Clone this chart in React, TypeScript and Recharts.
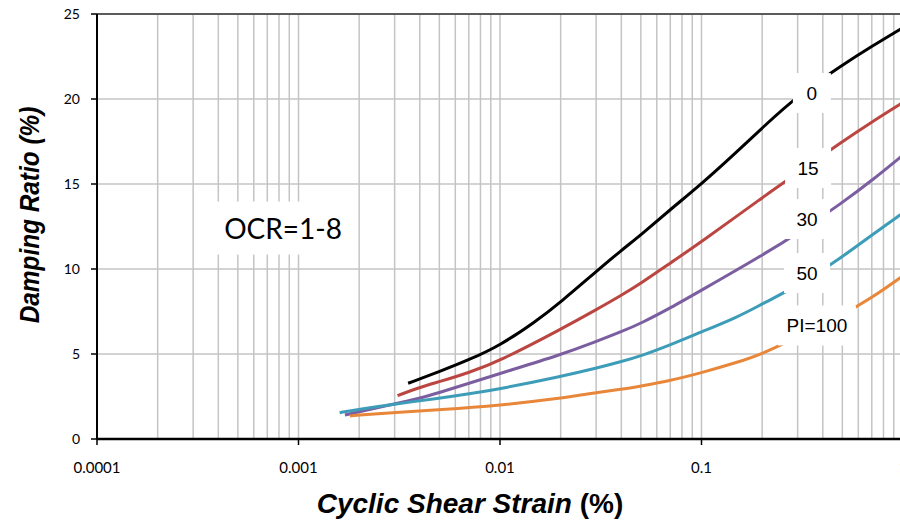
import React from 'react';
import {
  ComposedChart,
  Line,
  Scatter,
  XAxis,
  YAxis,
  CartesianGrid,
  ReferenceLine,
} from 'recharts';

// Damping curves for plasticity index PI = 0, 15, 30, 50, 100 (OCR = 1-8)
const strainPI0 = [0.0035, 0.005, 0.007, 0.01, 0.015, 0.02, 0.03, 0.04, 0.05, 0.07, 0.1, 0.15, 0.2, 0.3, 0.5, 0.7, 1];
const dampingPI0 = [3.28, 3.96, 4.65, 5.5, 6.9, 8.05, 9.85, 11.1, 12.0, 13.5, 15.0, 16.9, 18.3, 20.2, 22.0, 23.1, 24.2];

const strainPI15 = [0.0031, 0.004, 0.005, 0.007, 0.01, 0.02, 0.03, 0.04, 0.05, 0.07, 0.1, 0.2, 0.3, 0.5, 0.7, 1];
const dampingPI15 = [2.55, 3.04, 3.37, 3.9, 4.6, 6.45, 7.6, 8.45, 9.15, 10.35, 11.6, 14.2, 15.65, 17.5, 18.65, 19.8];

const strainPI30 = [0.0017, 0.002, 0.003, 0.004, 0.005, 0.007, 0.01, 0.02, 0.03, 0.04, 0.05, 0.07, 0.1, 0.2, 0.3, 0.5, 0.7, 1];
const dampingPI30 = [1.41, 1.61, 2.06, 2.4, 2.73, 3.27, 3.86, 4.95, 5.73, 6.31, 6.8, 7.7, 8.75, 10.8, 12.1, 13.9, 15.2, 16.7];

const strainPI50 = [0.0016, 0.002, 0.003, 0.005, 0.007, 0.01, 0.02, 0.03, 0.04, 0.05, 0.07, 0.1, 0.15, 0.2, 0.3, 0.5, 0.7, 1];
const dampingPI50 = [1.55, 1.75, 2.06, 2.39, 2.65, 2.95, 3.67, 4.16, 4.55, 4.88, 5.53, 6.3, 7.15, 7.95, 9.0, 10.7, 12.0, 13.3];

const strainPI100 = [0.0018, 0.002, 0.003, 0.005, 0.01, 0.02, 0.03, 0.04, 0.05, 0.07, 0.1, 0.15, 0.2, 0.3, 0.5, 0.7, 1];
const dampingPI100 = [1.35, 1.41, 1.55, 1.71, 1.98, 2.39, 2.73, 2.92, 3.12, 3.43, 3.9, 4.5, 5.0, 6.0, 7.3, 8.3, 9.6];

// axis ticks
const decadeTicks = [0.0001, 0.001, 0.01, 0.1, 1];
const dampingTicks = [0, 5, 10, 15, 20, 25];

// curve labels, anchored in data units (strain, damping)
const curveLabelText = ['0', '15', '30', '50', 'PI=100'];
const curveLabelStrain = [0.353, 0.338, 0.334, 0.334, 0.374];
const curveLabelDamping = [20.35, 15.94, 12.94, 9.76, 6.68];

const noteText = 'OCR=1-8';
const noteStrain = 0.000838;
const noteDamping = 12.41;

const toPoints = (s: number[], d: number[]) => s.map((v, i) => ({ s: v, d: d[i] }));

const series = [
  { name: 'PI=0', data: toPoints(strainPI0, dampingPI0), color: '#000000' },
  { name: 'PI=15', data: toPoints(strainPI15, dampingPI15), color: '#BB4641' },
  { name: 'PI=30', data: toPoints(strainPI30, dampingPI30), color: '#7B5EA0' },
  { name: 'PI=50', data: toPoints(strainPI50, dampingPI50), color: '#3D9DB8' },
  { name: 'PI=100', data: toPoints(strainPI100, dampingPI100), color: '#E8873A' },
];

// minor grid: 1..9 x each decade
const gridTicks = decadeTicks.slice(0, -1).flatMap((dec) =>
  [1, 2, 3, 4, 5, 6, 7, 8, 9].map((m) => m * dec)
).concat([1]);

const labelPoints = [
  ...curveLabelText.map((t, i) => ({
    s: curveLabelStrain[i],
    d: curveLabelDamping[i],
    text: t,
    big: false,
  })),
  { s: noteStrain, d: noteDamping, text: noteText, big: true },
];

const StrainTick = (props: any) => {
  const { x, y, payload } = props;
  if (!decadeTicks.includes(payload.value)) return null;
  return (
    <g>
      <line x1={x} x2={x} y1={y} y2={y + 6} stroke="#000" strokeWidth={1.5} />
      <text
        x={x}
        y={y + 34}
        textAnchor="middle"
        fontFamily="Lato, sans-serif"
        fontSize={15}
        fill="#000"
      >
        {String(payload.value)}
      </text>
    </g>
  );
};

// white box with text that hides the lines behind it
const LabelBox = (props: any) => {
  const { cx, cy, payload } = props;
  if (cx == null || cy == null) return null;
  const big = payload.big;
  const w = big ? 30 + 16 * payload.text.length : 30 + 8 * payload.text.length;
  const h = big ? 53 : 40;
  return (
    <g>
      <rect x={cx - w / 2} y={cy - h / 2} width={w} height={h} fill="#fff" />
      <text
        x={cx}
        y={cy}
        textAnchor="middle"
        dominantBaseline="central"
        fontFamily={big ? 'Lato, sans-serif' : '"Liberation Sans", Arial, sans-serif'}
        fontSize={big ? 28 : 19}
        fill="#000"
      >
        {payload.text}
      </text>
    </g>
  );
};

const titleFont = '"Liberation Sans", Arial, sans-serif';

const App = () => {
  return (
    <div
      style={{
        position: 'absolute',
        left: 0,
        top: 0,
        width: 900,
        height: 525,
        overflow: 'hidden',
        background: '#fff',
      }}
    >
      <ComposedChart
        width={910}
        height={525}
        margin={{ top: 14, right: 7, bottom: 0, left: 0 }}
      >
        <CartesianGrid stroke="#c4c4c4" strokeWidth={1.5} />
        <XAxis
          dataKey="s"
          type="number"
          scale="log"
          domain={[0.0001, 1]}
          allowDataOverflow
          ticks={gridTicks}
          interval={0}
          height={86}
          tickSize={0}
          tickMargin={0}
          tickLine={false}
          tick={<StrainTick />}
          axisLine={{ stroke: '#000', strokeWidth: 2.5 }}
        />
        <YAxis
          dataKey="d"
          type="number"
          domain={[0, 25]}
          ticks={dampingTicks}
          width={97}
          tickSize={6}
          tickMargin={11}
          tickLine={{ stroke: '#000', strokeWidth: 1.5 }}
          axisLine={{ stroke: '#000', strokeWidth: 2 }}
          tick={{ fill: '#000', fontSize: 14, fontFamily: 'Lato, sans-serif' }}
        />
        <ReferenceLine y={25} stroke="#333" strokeWidth={1.5} />
        {series.map((sr) => (
          <Line
            key={sr.name}
            data={sr.data}
            dataKey="d"
            type="basis"
            stroke={sr.color}
            strokeWidth={3}
            dot={false}
            activeDot={false}
            isAnimationActive={false}
          />
        ))}
        <Scatter
          data={labelPoints}
          dataKey="d"
          shape={<LabelBox />}
          isAnimationActive={false}
        />
      </ComposedChart>
      <div
        style={{
          position: 'absolute',
          left: 30,
          top: 215,
          transform: 'translate(-50%, -50%) rotate(-90deg) scaleX(0.87)',
          whiteSpace: 'nowrap',
          fontFamily: titleFont,
          fontWeight: 'bold',
          fontStyle: 'italic',
          fontSize: 28,
        }}
      >
        Damping Ratio (%)
      </div>
      <div
        style={{
          position: 'absolute',
          left: 470,
          top: 504,
          transform: 'translate(-50%, -50%)',
          whiteSpace: 'nowrap',
          fontFamily: titleFont,
          fontWeight: 'bold',
          fontSize: 28,
        }}
      >
        <span style={{ fontStyle: 'italic' }}>Cyclic Shear Strain</span> (%)
      </div>
    </div>
  );
};

export default App;
